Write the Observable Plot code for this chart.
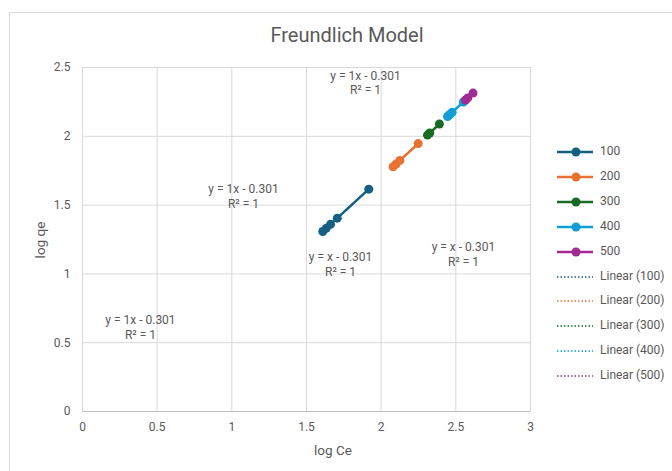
<!DOCTYPE html>
<html>
<head>
<meta charset="utf-8">
<script src="https://cdn.jsdelivr.net/npm/d3@7"></script>
<script src="https://cdn.jsdelivr.net/npm/@observablehq/plot@0.6"></script>
<style>
  html, body { margin: 0; padding: 0; background: #fff; overflow: hidden; }
  body { width: 672px; height: 471px; position: relative; font-family: Roboto, "Noto Sans", sans-serif; color: #595959; }
  #box { position: absolute; left: 9px; top: 12px; width: 720px; height: 520px; border: 1px solid #d9d9d9; box-sizing: border-box; }
  #title { position: absolute; left: 0; width: 694px; top: 23px; text-align: center; font-size: 20px; color: #595959; }
  #chart { position: absolute; left: 0; top: 0; }
  #xlabel { position: absolute; left: 233px; width: 200px; top: 442px; text-align: center; font-size: 13.5px; }
  #ylabel { position: absolute; left: 40px; top: 240px; font-size: 13.5px; transform: translate(-50%, -50%) rotate(-90deg); white-space: nowrap; }
  #legend { position: absolute; left: 557px; top: 0; font-size: 12px; color: #595959; }
  .item { position: absolute; left: 0; height: 20px; white-space: nowrap; }
  .item svg { position: absolute; left: 0; top: 0; }
  .item span { position: absolute; left: 43px; top: 2px; }
</style>
</head>
<body>
<div id="box"></div>
<div id="title">Freundlich Model</div>
<div id="chart"></div>
<div id="xlabel">log Ce</div>
<div id="ylabel">log qe</div>
<div id="legend"></div>
<script>
// Series names (initial concentrations) and their colours
const seriesNames = ["100", "200", "300", "400", "500"];
const seriesColors = ["#156082", "#e97132", "#196b24", "#0f9ed5", "#a02b93"];

// log Ce / log qe for each series
const logCe100 = [1.609, 1.632, 1.661, 1.706, 1.917];
const logQe100 = [1.308, 1.331, 1.360, 1.405, 1.616];
const logCe200 = [2.080, 2.100, 2.125, 2.248];
const logQe200 = [1.779, 1.799, 1.824, 1.947];
const logCe300 = [2.310, 2.325, 2.390];
const logQe300 = [2.009, 2.024, 2.089];
const logCe400 = [2.445, 2.460, 2.475, 2.550];
const logQe400 = [2.144, 2.159, 2.174, 2.249];
const logCe500 = [2.565, 2.580, 2.615];
const logQe500 = [2.264, 2.279, 2.314];

// Trendline equation labels and where they sit
const eqText = ["y = 1x - 0.301", "y = 1x - 0.301", "y = x - 0.301", "y = x - 0.301", "y = 1x - 0.301"];
const eqX = [1.895, 1.078, 1.728, 2.551, 0.388];
const eqY = [2.391, 1.566, 1.072, 1.145, 0.614];

// Axis ticks
const xTicks = [0, 0.5, 1, 1.5, 2, 2.5, 3];
const xTickLabels = ["0", "0.5", "1", "1.5", "2", "2.5", "3"];
const yTicks = [0, 0.5, 1, 1.5, 2, 2.5];
const yTickLabels = ["0", "0.5", "1", "1.5", "2", "2.5"];

const xs = [logCe100, logCe200, logCe300, logCe400, logCe500];
const ys = [logQe100, logQe200, logQe300, logQe400, logQe500];
const rows = seriesNames.flatMap((s, k) => xs[k].map((x, i) => ({s, x, y: ys[k][i]})));
const eqs = eqText.map((t, i) => ({t: t + "\nR² = 1", x: eqX[i], y: eqY[i]}));

const font = "Roboto, 'Noto Sans', sans-serif";
const plot = Plot.plot({
  width: 672,
  height: 471,
  marginLeft: 82,
  marginRight: 142,
  marginTop: 67,
  marginBottom: 60,
  style: {fontFamily: font, color: "#595959", background: "transparent"},
  x: {domain: [0, 3]},
  y: {domain: [0, 2.5]},
  color: {domain: seriesNames, range: seriesColors},
  marks: [
    Plot.gridX(xTicks, {stroke: "#d9d9d9", strokeOpacity: 1}),
    Plot.gridY(yTicks, {stroke: "#d9d9d9", strokeOpacity: 1}),
    Plot.ruleY([0], {stroke: "#bfbfbf", strokeWidth: 1.2}),
    Plot.axisX(xTicks, {
      tickSize: 0, tickPadding: 11, fontSize: 12, fill: "#595959",
      tickFormat: d => xTickLabels[xTicks.indexOf(d)], label: null
    }),
    Plot.axisY(yTicks, {
      tickSize: 0, tickPadding: 12, fontSize: 12, fill: "#595959",
      tickFormat: d => yTickLabels[yTicks.indexOf(d)], label: null
    }),
    Plot.linearRegressionY(rows, {x: "x", y: "y", z: "s", stroke: "s", ci: 0, strokeWidth: 1.5, strokeDasharray: "1.5,2"}),
    Plot.line(rows, {x: "x", y: "y", z: "s", stroke: "s", strokeWidth: 2.5}),
    Plot.dot(rows, {x: "x", y: "y", fill: "s", r: 4.5}),
    Plot.text(eqs, {x: "x", y: "y", text: "t", fontSize: 12, fill: "#595959", lineHeight: 1.2})
  ]
});
document.getElementById("chart").appendChild(plot);

// Legend: series with markers, then their dotted linear trendlines
const legend = document.getElementById("legend");
const legendTop = 142;
const legendStep = 24.9;
seriesNames.concat(seriesNames).forEach((s, i) => {
  const k = i % seriesNames.length;
  const isTrend = i >= seriesNames.length;
  const item = document.createElement("div");
  item.className = "item";
  item.style.top = (legendTop + i * legendStep) + "px";
  const line = isTrend
    ? `<line x1="0" x2="36" y1="10" y2="10" stroke="${seriesColors[k]}" stroke-width="1.5" stroke-dasharray="1.5,2"/>`
    : `<line x1="0" x2="36" y1="10" y2="10" stroke="${seriesColors[k]}" stroke-width="2.5"/><circle cx="19" cy="10" r="4.5" fill="${seriesColors[k]}"/>`;
  item.innerHTML = `<svg width="40" height="20">${line}</svg><span>${isTrend ? "Linear (" + s + ")" : s}</span>`;
  legend.appendChild(item);
});
</script>
</body>
</html>
